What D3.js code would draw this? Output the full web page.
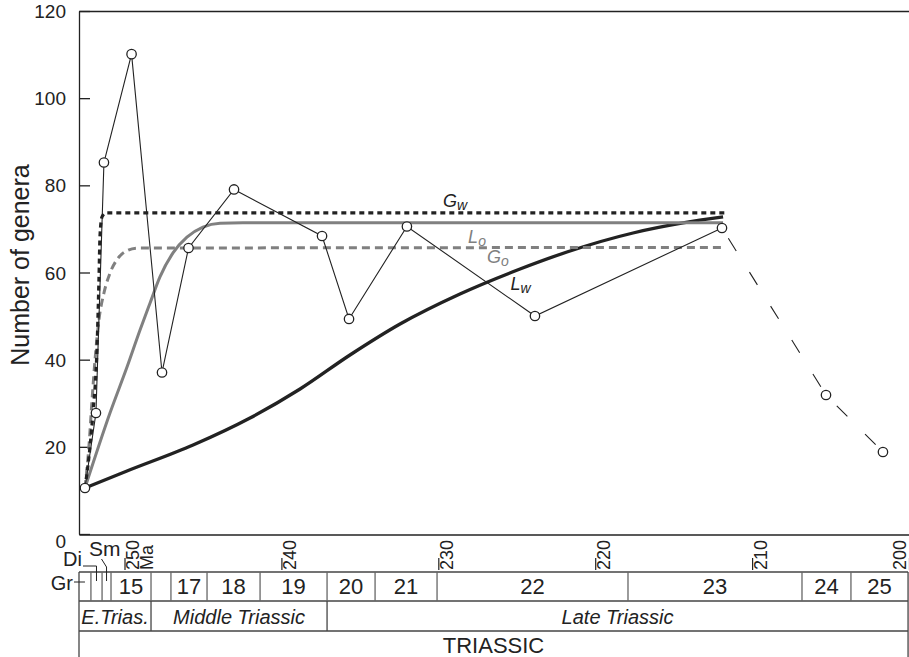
<!DOCTYPE html>
<html>
<head>
<meta charset="utf-8">
<script src="https://cdn.jsdelivr.net/npm/d3@7"></script>
<style>
  body { margin: 0; background: #fff; }
  svg { display: block; font-family: "Liberation Sans", Arial, Helvetica, sans-serif; }
</style>
</head>
<body>
<svg id="chart" width="909" height="657"></svg>
<script>
// observed genera per zone (age in Ma)
const obsAge    = [252.52, 251.82, 251.31, 249.55, 247.61, 245.92, 243.02, 237.41, 235.69, 232.0, 223.84, 211.92, 205.29, 201.66];
const obsGenera = [10.55, 27.76, 85.24, 110.1, 37.06, 65.62, 79.05, 68.38, 49.34, 70.56, 50.02, 70.21, 31.89, 18.81];

// model curves
const gwAge    = [252.52, 252.20, 252.01, 251.75, 251.63, 251.56, 251.43, 251.18, 211.73];
const gwGenera = [10.55, 19.96, 27.76, 42.9, 58.3, 68.6, 72.8, 73.66, 73.66];
const goAge    = [252.52, 252.27, 252.07, 251.88, 251.63, 251.31, 250.92, 250.41, 249.84, 249.20, 211.73];
const goGenera = [10.55, 19.96, 30.7, 39.9, 49.1, 55.3, 59.9, 63.3, 65.0, 65.6, 65.74];
const loAge    = [252.52, 250.92, 249.84, 249.01, 248.37, 247.74, 246.91, 246.02, 245.0, 243.91, 242.45, 211.85];
const loGenera = [10.55, 27.8, 38.3, 46.8, 53.0, 59.0, 64.5, 68.1, 70.4, 71.3, 71.4, 71.4];
const lwAge    = [252.52, 249.84, 245.63, 242.0, 238.81, 235.63, 232.44, 228.62, 224.79, 221.80, 217.59, 214.40, 211.85];
const lwGenera = [10.55, 14.46, 20.42, 26.62, 33.27, 41.07, 48.18, 55.07, 60.80, 64.70, 69.06, 71.36, 72.74];

// axes
const generaTicks = [0, 20, 40, 60, 80, 100, 120];
const ageTicks = [250, 240, 230, 220, 210, 200];

// time scale
const zoneBounds = [252.9, 252.14, 251.43, 250.86, 248.31, 247.04, 244.74, 241.36, 237.09, 234.03, 230.08, 217.91, 206.82, 203.70, 200.06];
const zoneLabels = ["", "", "", "15", "", "17", "18", "19", "20", "21", "22", "23", "24", "25"];
const epochBounds = [252.9, 248.31, 237.09, 200.06];
const epochLabels = ["E.Trias.", "Middle Triassic", "Late Triassic"];
const periodLabel = "TRIASSIC";
const smallZones = ["Gr", "Di", "Sm"];

const svg = d3.select("#chart");
const ink = "#222";
const grey = "#808080";

const x = d3.scaleLinear().domain([252.9, 200]).range([79, 909]);
const y = d3.scaleLinear().domain([0, 120]).range([534, 11]);

// frame: top and bottom lines
svg.append("g").attr("transform", "translate(0,11)")
  .call(d3.axisBottom(x).tickValues([]).tickSizeOuter(0))
  .select(".domain").attr("stroke", ink).attr("stroke-width", 1.3);
svg.append("g").attr("transform", "translate(0,534.5)")
  .call(d3.axisBottom(x).tickValues([]).tickSizeOuter(0))
  .select(".domain").attr("stroke", ink).attr("stroke-width", 1.3);

// y axis, ticks inside
const yTicks = svg.append("g").attr("transform", "translate(79,0)")
  .call(d3.axisRight(y).tickValues(generaTicks).tickSize(11).tickSizeOuter(0).tickFormat(""));
yTicks.select(".domain").attr("stroke", ink).attr("stroke-width", 1.3);
yTicks.selectAll(".tick line").attr("stroke", ink).attr("stroke-width", 1.3);

const yLabels = svg.append("g").attr("transform", "translate(79,0)")
  .call(d3.axisLeft(y).tickValues(generaTicks).tickSize(0).tickPadding(13));
yLabels.select(".domain").remove();
yLabels.selectAll("text")
  .attr("font-size", 19).attr("font-family", "Liberation Sans, Arial, sans-serif")
  .attr("fill", ink)
  .attr("dy", d => d === 0 ? "0.72em" : "0.35em");

svg.append("text")
  .attr("transform", "translate(29,265) rotate(-90)")
  .attr("text-anchor", "middle")
  .attr("font-size", 25).attr("fill", ink)
  .text("Number of genera");

// model curves
function curve(ages, vals, color, width, dash) {
  const pts = ages.map((a, i) => [a, vals[i]]);
  svg.append("path")
    .datum(pts)
    .attr("fill", "none")
    .attr("stroke", color)
    .attr("stroke-width", width)
    .attr("stroke-dasharray", dash)
    .attr("d", d3.line().x(d => x(d[0])).y(d => y(d[1])).curve(d3.curveMonotoneX));
}
curve(lwAge, lwGenera, ink, 3.3, null);
curve(loAge, loGenera, grey, 3, null);
curve(goAge, goGenera, grey, 3, "8,5");
curve(gwAge, gwGenera, ink, 3.2, "5,4");

// observed data
const obs = obsAge.map((a, i) => ({age: a, n: obsGenera[i]}));
const obsLine = d3.line().x(d => x(d.age)).y(d => y(d.n));
svg.append("path").datum(obs.slice(0, 12))
  .attr("fill", "none").attr("stroke", ink).attr("stroke-width", 1.1)
  .attr("d", obsLine);
svg.append("path").datum(obs.slice(11))
  .attr("fill", "none").attr("stroke", ink).attr("stroke-width", 1.1)
  .attr("stroke-dasharray", "0,12,15,13")
  .attr("d", obsLine);
svg.selectAll(".obs").data(obs).enter().append("circle")
  .attr("class", "obs")
  .attr("cx", d => x(d.age)).attr("cy", d => y(d.n))
  .attr("r", 4.7)
  .attr("fill", "#fff").attr("stroke", ink).attr("stroke-width", 1.3);

// curve labels
const curveNames = [["G", "w", ink, 229.7, 75.0], ["L", "o", grey, 228.1, 66.8], ["G", "o", grey, 226.9, 62.2], ["L", "w", ink, 225.4, 56.0]];
curveNames.forEach(c => {
  const t = svg.append("text")
    .attr("x", x(c[3])).attr("y", y(c[4]))
    .attr("font-size", 18).attr("font-style", "italic").attr("fill", c[2]);
  t.append("tspan").text(c[0]);
  t.append("tspan").attr("font-size", 14).attr("dy", 3).text(c[1]);
});

// age ticks (Ma)
const ageAxis = svg.append("g").attr("transform", "translate(0,558)")
  .call(d3.axisBottom(x).tickValues(ageTicks).tickSize(12).tickSizeOuter(0).tickFormat(""));
ageAxis.select(".domain").remove();
ageAxis.selectAll(".tick line").attr("stroke", ink).attr("stroke-width", 1.2);
ageAxis.selectAll(".tick").append("text")
  .attr("transform", "rotate(-90)")
  .attr("x", -12)
  .attr("y", d => Math.min(14, 905 - x(d)))
  .attr("text-anchor", "start")
  .attr("font-size", 18).attr("fill", ink)
  .text(d => d);
ageAxis.selectAll(".tick").filter(d => d === 250).append("text")
  .attr("transform", "rotate(-90)")
  .attr("x", -12).attr("y", 28)
  .attr("text-anchor", "start")
  .attr("font-size", 18).attr("fill", ink)
  .text("Ma");

// time scale boxes
const ts = svg.append("g").attr("stroke", "#444").attr("stroke-width", 1.3);
const xL = x(zoneBounds[0]), xR = x(zoneBounds[zoneBounds.length - 1]);
[572, 601, 631].forEach(yy => ts.append("line").attr("x1", xL).attr("x2", xR).attr("y1", yy).attr("y2", yy));
ts.append("line").attr("x1", xL).attr("x2", xL).attr("y1", 572).attr("y2", 657);
ts.append("line").attr("x1", xR).attr("x2", xR).attr("y1", 572).attr("y2", 657);
ts.selectAll(".zb").data(zoneBounds.slice(1, -1)).enter().append("line")
  .attr("x1", d => x(d)).attr("x2", d => x(d)).attr("y1", 572).attr("y2", 601)
  .attr("stroke", "#666");
ts.selectAll(".eb").data(epochBounds.slice(1, -1)).enter().append("line")
  .attr("x1", d => x(d)).attr("x2", d => x(d)).attr("y1", 601).attr("y2", 631);

const zones = zoneLabels.map((l, i) => ({label: l, mid: (zoneBounds[i] + zoneBounds[i + 1]) / 2}));
svg.selectAll(".zl").data(zones).enter().append("text")
  .attr("x", d => x(d.mid)).attr("y", 594)
  .attr("text-anchor", "middle").attr("font-size", 22).attr("fill", ink)
  .text(d => d.label);

svg.selectAll(".el").data(epochLabels).enter().append("text")
  .attr("x", (d, i) => x((epochBounds[i] + epochBounds[i + 1]) / 2)).attr("y", 624)
  .attr("text-anchor", "middle").attr("font-size", 20).attr("font-style", "italic").attr("fill", ink)
  .text(d => d);

svg.append("text")
  .attr("x", (xL + xR) / 2).attr("y", 653)
  .attr("text-anchor", "middle").attr("font-size", 22).attr("fill", ink)
  .text(periodLabel);

// Gr, Di, Sm with leaders into the narrow zones
const m0 = x(zones[0].mid), m1 = x(zones[1].mid), m2 = x(zones[2].mid);
svg.append("text").attr("x", 73).attr("y", 590).attr("text-anchor", "end")
  .attr("font-size", 20).attr("fill", ink).text(smallZones[0]);
svg.append("text").attr("x", 82).attr("y", 566).attr("text-anchor", "end")
  .attr("font-size", 20).attr("fill", ink).text(smallZones[1]);
svg.append("text").attr("x", 89).attr("y", 556)
  .attr("font-size", 21).attr("fill", ink).text(smallZones[2]);
const lead = svg.append("g").attr("fill", "none").attr("stroke", ink).attr("stroke-width", 1);
lead.append("path").attr("d", `M74,582H${m0}`);
lead.append("path").attr("d", `M83,566H${m1}V581`);
lead.append("path").attr("d", `M101.5,559L${m2},567V581`);
</script>
</body>
</html>
